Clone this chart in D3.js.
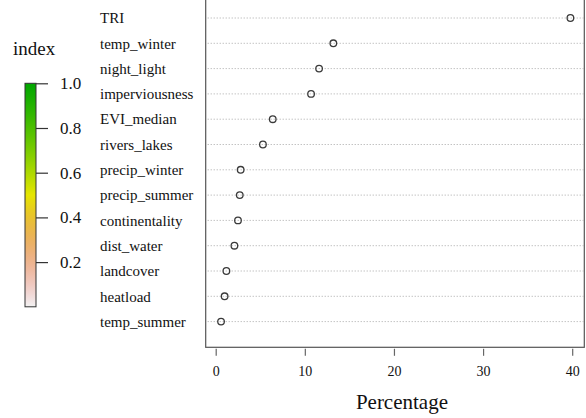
<!DOCTYPE html>
<html>
<head>
<meta charset="utf-8">
<script src="https://cdn.jsdelivr.net/npm/d3@7"></script>
<style>
  html, body { margin: 0; padding: 0; background: #fff; }
  svg { display: block; }
</style>
</head>
<body>
<svg id="chart" width="586" height="418"></svg>
<script>
// Variable importance, top to bottom
const variables = ["TRI", "temp_winter", "night_light", "imperviousness", "EVI_median",
  "rivers_lakes", "precip_winter", "precip_summer", "continentality", "dist_water",
  "landcover", "heatload", "temp_summer"];
const percentage = [39.8, 13.2, 11.6, 10.7, 6.4, 5.3, 2.8, 2.7, 2.5, 2.1, 1.2, 1.0, 0.6];
const xTicks = [0, 10, 20, 30, 40];
const legendTicks = [0.2, 0.4, 0.6, 0.8, 1.0];
const legendTitle = "index";
const xTitle = "Percentage";

const SERIF = '"Liberation Serif"';
const svg = d3.select("#chart");

// Plot frame and scales
const frame = { left: 205.7, right: 584.3, top: -5, bottom: 347.3 };
const x = d3.scaleLinear().domain([0, 40]).range([215.7, 572.2]);
const y = d3.scalePoint().domain(variables).range([18, 321.6]);

// Dotted guide lines per variable
svg.append("g").selectAll("line").data(variables).join("line")
  .attr("x1", frame.left + 2).attr("x2", frame.right - 1)
  .attr("y1", d => y(d)).attr("y2", d => y(d))
  .attr("stroke", "#a8a8a8").attr("stroke-width", 1)
  .attr("stroke-dasharray", "1,2");

// Frame
svg.append("rect")
  .attr("x", frame.left).attr("y", frame.top)
  .attr("width", frame.right - frame.left).attr("height", frame.bottom - frame.top)
  .attr("fill", "none").attr("stroke", "#555").attr("stroke-width", 1.2);

// Variable labels
svg.append("g").selectAll("text").data(variables).join("text")
  .attr("x", 100).attr("y", d => y(d))
  .attr("dy", "0.35em")
  .style("font-family", SERIF).style("font-size", "15px").style("fill", "#111")
  .text(d => d);

// Points
svg.append("g").selectAll("circle").data(variables).join("circle")
  .attr("cx", (d, i) => x(percentage[i]))
  .attr("cy", d => y(d))
  .attr("r", 3.3)
  .attr("fill", "none").attr("stroke", "#3a3a3a").attr("stroke-width", 1.3);

// Bottom axis
const xAxis = svg.append("g").attr("transform", `translate(0,${frame.bottom + 1.5})`)
  .call(d3.axisBottom(x).tickValues(xTicks).tickSize(7).tickPadding(10).tickFormat(d3.format("d")));
xAxis.select(".domain").remove();
xAxis.selectAll(".tick line").attr("stroke", "#666").attr("stroke-width", 1.2);
xAxis.selectAll(".tick text")
  .style("font-family", SERIF).style("font-size", "14px").style("fill", "#111");

svg.append("text")
  .attr("x", x(20) + 8).attr("y", 409)
  .attr("text-anchor", "middle")
  .style("font-family", SERIF).style("font-size", "21px").style("fill", "#111")
  .text(xTitle);

// HSV (h in degrees, s and v in [0,1]) to an rgb colour
function hsvToRgb(h, s, v) {
  const f = n => {
    const k = (n + h / 60) % 6;
    return v - v * s * Math.max(0, Math.min(k, 4 - k, 1));
  };
  return d3.rgb(f(5) * 255, f(3) * 255, f(1) * 255);
}

// Terrain palette: 1 = green, 0.5 = yellow, 0 = near white
const terrain = t => {
  if (t >= 0.5) {
    const u = (t - 0.5) / 0.5;
    return hsvToRgb(60 + 60 * u, 1, 0.9 - 0.25 * u);
  }
  const u = t / 0.5;
  return hsvToRgb(60 * u, u, 0.95 - 0.05 * u);
};

const defs = svg.append("defs");
const grad = defs.append("linearGradient").attr("id", "indexGrad")
  .attr("x1", 0).attr("y1", 1).attr("x2", 0).attr("y2", 0);
d3.range(0, 1.0001, 0.02).forEach(t => {
  grad.append("stop").attr("offset", t).attr("stop-color", terrain(t).formatHex());
});

const ly = d3.scaleLinear().domain([0, 1]).range([306.8, 83.3]);
const barX = 25, barW = 11;

svg.append("rect")
  .attr("x", barX).attr("y", ly(1))
  .attr("width", barW).attr("height", ly(0) - ly(1))
  .attr("fill", "url(#indexGrad)")
  .attr("stroke", "#333").attr("stroke-width", 1);

const legendAxis = svg.append("g").attr("transform", `translate(${barX + barW},0)`)
  .call(d3.axisRight(ly).tickValues(legendTicks).tickSize(12).tickPadding(12).tickFormat(d3.format(".1f")));
legendAxis.select(".domain").remove();
legendAxis.selectAll(".tick line").attr("stroke", "#333").attr("stroke-width", 1.2);
legendAxis.selectAll(".tick text")
  .style("font-family", SERIF).style("font-size", "17px").style("fill", "#111");

svg.append("text")
  .attr("x", 13).attr("y", 55)
  .style("font-family", SERIF).style("font-size", "19px").style("fill", "#111")
  .text(legendTitle);
</script>
</body>
</html>
